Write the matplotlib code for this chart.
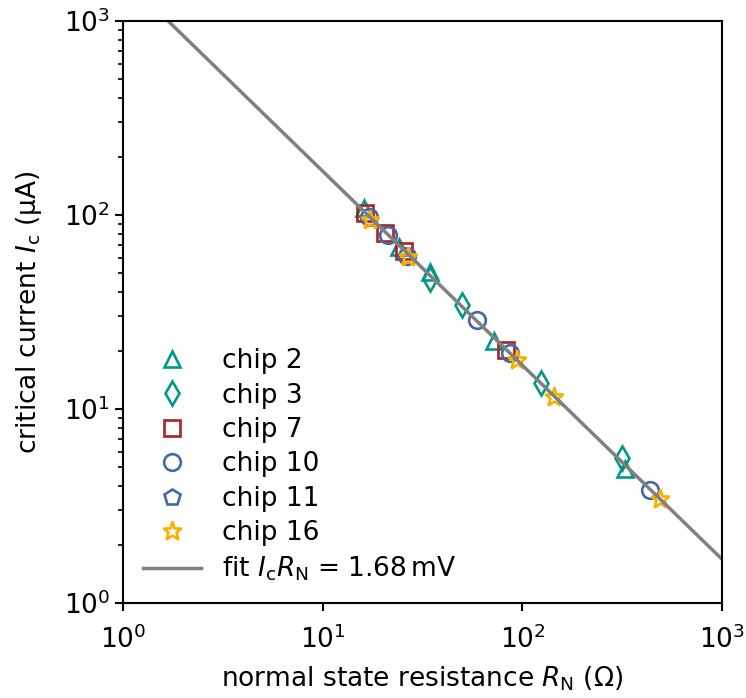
import numpy as np
import matplotlib
matplotlib.use("Agg")
import matplotlib.pyplot as plt
from matplotlib.ticker import LogLocator, NullLocator

# data (R in Ohm, Ic in uA)
chip2_R = [16.1, 24.0, 34.5, 72.1, 327.0]
chip2_I = [108.0, 68.0, 50.8, 22.4, 4.91]
chip3_R = [34.6, 49.9, 124.0, 315.0]
chip3_I = [46.8, 34.4, 13.6, 5.59]
chip7_R = [16.3, 20.5, 25.5, 82.8]
chip7_I = [102.4, 80.7, 65.2, 20.1]
chip10_R = [17.0, 21.2, 26.4, 59.3, 86.7, 435.0]
chip10_I = [97.7, 78.8, 61.5, 28.8, 19.4, 3.82]
chip11_R = []
chip11_I = []
chip16_R = [17.2, 26.7, 94.0, 144.0, 489.0]
chip16_I = [94.2, 60.8, 17.9, 11.5, 3.44]
fit_IcRn = 1.68  # mV

plt.rcParams['font.size'] = 19

fig = plt.figure(figsize=(7.46, 6.98), dpi=100)
ax = fig.add_axes([0.165, 0.136, 0.803, 0.834])

ms = 12
mew = 1.9
ax.plot(chip2_R, chip2_I, '^', ms=ms, mfc='none', mec='#009988', mew=mew, label='chip 2')
ax.plot(chip3_R, chip3_I, 'd', ms=ms, mfc='none', mec='#009988', mew=mew, label='chip 3')
ax.plot(chip7_R, chip7_I, 's', ms=ms, mfc='none', mec='#AA2222', mew=mew, label='chip 7')
ax.plot(chip10_R, chip10_I, 'o', ms=ms, mfc='none', mec='#4466AA', mew=mew, label='chip 10')
ax.plot(chip11_R, chip11_I, 'p', ms=ms, mfc='none', mec='#4466AA', mew=mew, label='chip 11')
ax.plot(chip16_R, chip16_I, '*', ms=ms + 2, mfc='none', mec='#F5B000', mew=mew, label='chip 16')

R = np.array([1.0, 1000.0])
ax.plot(R, fit_IcRn * 1000 / R, '-', color='grey', lw=2.5,
        label=r'fit $I_\mathrm{c}R_\mathrm{N}$ = 1.68$\,$mV')

ax.set_xscale('log')
ax.set_yscale('log')
ax.set_xlim(1, 1000)
ax.set_ylim(1, 1000)
ax.xaxis.set_minor_locator(NullLocator())
ax.yaxis.set_minor_locator(LogLocator(base=10, subs=np.arange(2, 10)))
for s in ax.spines.values():
    s.set_linewidth(1.5)
ax.tick_params(which='major', width=1.5, length=6)
ax.tick_params(which='minor', width=1.2, length=3.5)
ax.tick_params(axis='x', which='major', pad=10)

ax.set_xlabel(r'normal state resistance $R_\mathrm{N}$ ($\Omega$)', labelpad=8)
ax.set_ylabel(r'critical current $I_\mathrm{c}$ ($\mathrm{\mu}$A)', labelpad=14)

ax.legend(loc='lower left', frameon=False, handlelength=2.2, borderaxespad=0.35,
          labelspacing=0.32, handletextpad=0.8)

fig.savefig('out.png', dpi=100)
